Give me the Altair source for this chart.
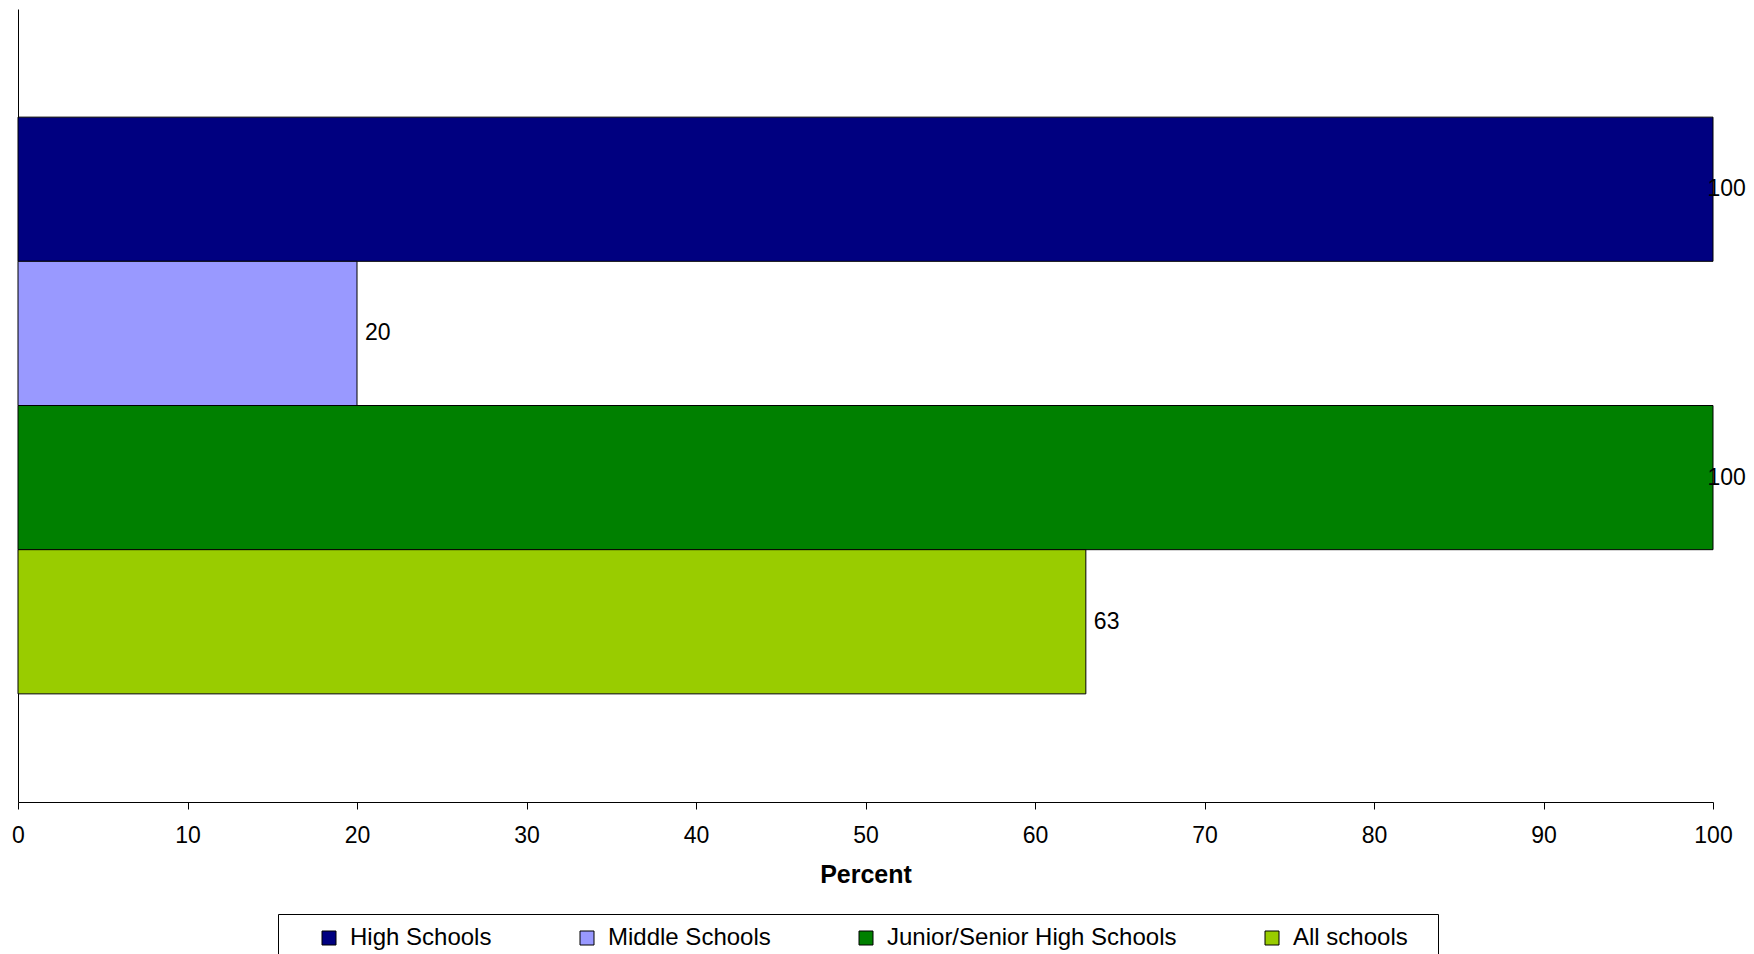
import altair as alt
import pandas as pd

series = ["High Schools", "Middle Schools", "Junior/Senior High Schools", "All schools"]
values = [100, 20, 100, 63]
colors = ["#000080", "#9999FF", "#008000", "#99CC00"]
x_ticks = [0, 10, 20, 30, 40, 50, 60, 70, 80, 90, 100]

df = pd.DataFrame({"series": series, "value": values})

FONT = "Liberation Sans"
PAD_CHAR = "\u2800"

x_axis = alt.Axis(
    values=x_ticks, title="Percent", grid=False, labelFlush=False,
    labelFontSize=23, labelColor="black", labelPadding=15,
    tickSize=7, tickColor="black", domainColor="black",
    titleFontSize=25, titleFontWeight="bold", titleColor="black", titlePadding=15,
)
y_enc = alt.Y(
    "series:N", sort=series,
    scale=alt.Scale(domain=series, paddingInner=0, paddingOuter=0.75),
    axis=alt.Axis(labels=False, ticks=False, title=None, grid=False, domainColor="black"),
)

legend = alt.Legend(
    orient="none", legendX=260, legendY=905, direction="horizontal",
    title=" ", titleOrient="left", titleFontSize=1, titlePadding=27,
    padding=12, strokeColor="black", fillColor="white",
    symbolType="square", symbolSize=196, symbolStrokeColor="black", symbolStrokeWidth=1,
    labelFontSize=24, labelColor="black", labelOffset=9, columnPadding=83, labelLimit=400,
    labelExpr="datum.label == 'All schools' ? datum.label + '" + PAD_CHAR + "' : datum.label",
)

bars = alt.Chart(df).mark_bar(stroke="black", strokeWidth=1).encode(
    x=alt.X("value:Q", scale=alt.Scale(domain=[0, 100], nice=False), axis=x_axis),
    y=y_enc,
    color=alt.Color("series:N", scale=alt.Scale(domain=series, range=colors), legend=legend),
)

labels = alt.Chart(df).transform_calculate(
    pos="min(datum.value, 99.2)"
).mark_text(
    align="left", baseline="middle", dx=8, fontSize=23, color="black", font=FONT
).encode(
    x=alt.X("pos:Q", scale=alt.Scale(domain=[0, 100], nice=False), axis=x_axis),
    y=y_enc,
    text=alt.Text("value:Q"),
)

chart = alt.layer(bars, labels).properties(
    width=1695, height=793,
    autosize=alt.AutoSizeParams(type="none"),
    padding={"left": 10, "top": 1, "right": 33, "bottom": 166},
).configure(font=FONT).configure_view(stroke=None)

chart.save("out.html", embed_options={"renderer": "svg", "actions": False})
